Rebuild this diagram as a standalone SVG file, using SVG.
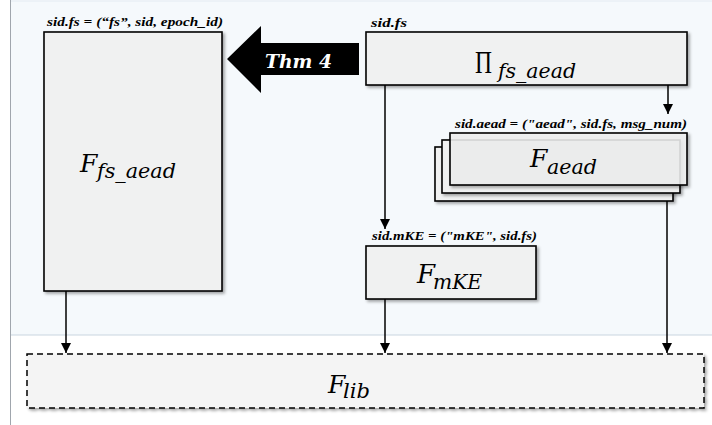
<svg xmlns="http://www.w3.org/2000/svg" width="712" height="425" viewBox="0 0 712 425">
<defs>
  <filter id="sh" x="-10%" y="-10%" width="125%" height="125%">
    <feDropShadow dx="2" dy="2" stdDeviation="1.5" flood-color="#000" flood-opacity="0.35"/>
  </filter>
  <marker id="ah" viewBox="0 0 10 10" refX="10" refY="5" markerWidth="10" markerHeight="10" markerUnits="userSpaceOnUse" orient="auto">
    <path d="M0,0 L10,5 L0,10 z" fill="#000"/>
  </marker>
  <style>
    .box{fill:#f0f1f1;stroke:#000;stroke-width:1.6}
    .lbl{font-family:"Liberation Serif","DejaVu Serif",serif;font-style:italic;font-weight:bold;font-size:13.5px;fill:#000}
    .F{font-family:"DejaVu Serif","Liberation Serif",serif;font-style:italic;font-size:25px;fill:#000}
    .sub{font-family:"DejaVu Serif","Liberation Serif",serif;font-style:italic;font-size:20px;fill:#000}
    .pi{font-family:"Liberation Serif","DejaVu Serif",serif;font-style:normal;font-size:31px;fill:#000}
    .con{stroke:#000;stroke-width:1.5;fill:none;marker-end:url(#ah)}
  </style>
</defs>
<rect x="0" y="0" width="712" height="425" fill="#fff"/>
<rect x="11" y="0" width="701" height="335" fill="#f5f9fc"/>
<line x1="11" y1="335" x2="712" y2="335" stroke="#c9d5e0" stroke-width="1"/>
<line x1="10.5" y1="0" x2="10.5" y2="425" stroke="#a0a6ad" stroke-width="1"/>
<line x1="11" y1="1" x2="712" y2="1" stroke="#e4ebf2" stroke-width="1"/>

<g id="connectors">
  <line class="con" x1="66" y1="291" x2="66" y2="353"/>
  <line class="con" x1="385" y1="85" x2="385" y2="229"/>
  <line class="con" x1="385" y1="299" x2="385" y2="353"/>
  <line class="con" x1="668" y1="85" x2="668" y2="114"/>
  <line class="con" x1="667" y1="201" x2="667" y2="353"/>
</g>

<g id="thm4">
  <polygon points="227,59 261,26 261,43 359,43 359,75 261,75 261,93" fill="#000"/>
  <text x="265" y="68" font-family="DejaVu Serif, Liberation Serif, serif" font-style="italic" font-weight="bold" font-size="18" fill="#fff" textLength="67" lengthAdjust="spacingAndGlyphs">Thm 4</text>
</g>

<g id="ffsaead">
  <text class="lbl" x="47" y="26" textLength="176" lengthAdjust="spacingAndGlyphs">sid.fs = (“fs”, sid, epoch_id)</text>
  <rect class="box" x="44" y="32" width="178" height="259" filter="url(#sh)"/>
  <text class="F" x="80" y="172">F</text>
  <text class="sub" x="97" y="178" textLength="79" lengthAdjust="spacingAndGlyphs">fs_aead</text>
</g>

<g id="pi">
  <text class="lbl" x="371" y="27" textLength="36" lengthAdjust="spacingAndGlyphs">sid.fs</text>
  <rect class="box" x="366" y="32" width="321" height="53" filter="url(#sh)"/>
  <text class="pi" x="475" y="73" textLength="17" lengthAdjust="spacingAndGlyphs">Π</text>
  <text class="sub" x="498" y="78" textLength="78" lengthAdjust="spacingAndGlyphs">fs_aead</text>
</g>

<g id="faead">
  <text class="lbl" x="455" y="128" textLength="232" lengthAdjust="spacingAndGlyphs">sid.aead = ("aead", sid.fs, msg_num)</text>
  <rect class="box" x="435" y="147" width="238" height="54" filter="url(#sh)"/>
  <rect class="box" x="442" y="140" width="238" height="53" filter="url(#sh)"/>
  <rect class="box" x="450" y="133" width="237" height="52" filter="url(#sh)" fill-opacity="0.85"/>
  <text class="F" x="530" y="167">F</text>
  <text class="sub" x="547" y="174" textLength="50" lengthAdjust="spacingAndGlyphs">aead</text>
</g>

<g id="fmke">
  <text class="lbl" x="372" y="240" textLength="165" lengthAdjust="spacingAndGlyphs">sid.mKE = ("mKE", sid.fs)</text>
  <rect class="box" x="366" y="246" width="170" height="53" filter="url(#sh)"/>
  <text class="F" x="417" y="283" style="font-size:26px">F</text>
  <text class="sub" x="433" y="289" textLength="49" lengthAdjust="spacingAndGlyphs">mKE</text>
</g>

<g id="flib">
  <rect x="27" y="354" width="677" height="54" fill="#f4f4f4" stroke="#000" stroke-width="1.5" stroke-dasharray="6,4" filter="url(#sh)"/>
  <text class="F" x="328" y="393">F</text>
  <text class="sub" x="343" y="398" textLength="27" lengthAdjust="spacingAndGlyphs">lib</text>
</g>
</svg>
